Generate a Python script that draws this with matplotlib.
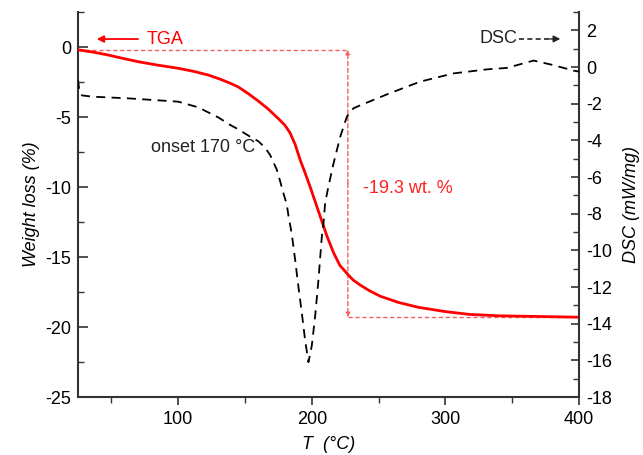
import matplotlib
matplotlib.use("Agg")
import matplotlib.pyplot as plt
import numpy as np

plt.rcParams['font.family'] = ['Liberation Sans', 'DejaVu Sans']

# TGA data (weight loss %, left axis)
tga_T = [25, 36, 47.5, 58, 70, 85, 100, 112, 122.4, 131.4, 138, 144.9, 152,
         159.8, 167, 174.8, 180, 183.8, 187.5, 191.3, 195, 198.8, 203.8,
         208.8, 211.3, 216.3, 221, 227.5, 231, 236.2, 243, 251.2, 265, 280,
         300, 318, 340, 370, 400]
tga_w = [-0.2, -0.36, -0.57, -0.8, -1.05, -1.3, -1.52, -1.75, -2.0, -2.3,
         -2.55, -2.85, -3.3, -3.85, -4.4, -5.1, -5.6, -6.15, -6.95, -8.07,
         -9.0, -10.0, -11.4, -12.8, -13.5, -14.7, -15.6, -16.3, -16.65, -17.0,
         -17.4, -17.8, -18.25, -18.6, -18.9, -19.1, -19.2, -19.25, -19.3]

# DSC data (mW/mg, right axis)
dsc_T = [25, 26, 28, 36, 62.5, 100, 115, 130, 138.9, 145, 153.8, 160, 165,
         168.8, 171, 173.8, 176, 178.8, 181.3, 182.5, 185, 187.5, 190, 192.5,
         195, 197.5, 200, 202.5, 205, 207.5, 208.8, 210, 212.5, 216.3, 221.3,
         226.3, 231.2, 236, 256, 281, 306, 331, 346, 366, 381, 396, 400]
dsc_v = [-0.7, -1.3, -1.55, -1.62, -1.71, -1.89, -2.2, -2.75, -3.16, -3.4,
         -3.8, -4.05, -4.4, -4.8, -5.15, -5.6, -6.15, -6.9, -7.5, -8.1, -9.1,
         -10.5, -12.0, -13.4, -14.9, -16.1, -15.2, -13.6, -11.6, -9.25, -8.5,
         -7.4, -6.5, -5.25, -3.8, -2.7, -2.25, -2.1, -1.5, -0.8, -0.35,
         -0.13, -0.05, 0.35, 0.1, -0.2, -0.25]

# annotation values
step_T = 227
w_start = -0.2
w_end = -19.3
loss_label = "-19.3 wt. %"

fig = plt.figure(figsize=(6.43, 4.55), dpi=100)
ax = fig.add_axes([78/643, 58/455, 501/643, 385/455])
ax2 = ax.twinx()

spine_c = '#333333'
fs = 13

ax.set_xlim(25, 400)
ax.set_ylim(-25, 2.5)
ax2.set_ylim(-18, 3)

# lines
ax.plot(tga_T, tga_w, color='#ff0000', lw=2.0, zorder=5)
ax2.plot(dsc_T, dsc_v, color='black', lw=1.3, ls=(0, (5, 3.5)), zorder=4)

# red dotted guides
red_l = '#f06060'
ax.plot([25, step_T], [w_start, w_start], color=red_l, lw=1.0, ls=(0, (3, 2)))
ax.plot([step_T, 400], [w_end, w_end], color=red_l, lw=1.0, ls=(0, (3, 2)))
ax.annotate('', xy=(step_T, w_start), xytext=(step_T, (w_start + w_end) / 2),
            arrowprops=dict(arrowstyle='-|>', color=red_l, lw=1.0, ls=(0, (3, 2)),
                            mutation_scale=6, shrinkA=0, shrinkB=0))
ax.annotate('', xy=(step_T, w_end), xytext=(step_T, (w_start + w_end) / 2),
            arrowprops=dict(arrowstyle='-|>', color=red_l, lw=1.0, ls=(0, (3, 2)),
                            mutation_scale=6, shrinkA=0, shrinkB=0))

# texts
ax.text(238.5, -10.1, loss_label, color='#ff2020', fontsize=fs, va='center', ha='left')
ax.text(79.5, -7.2, 'onset 170 °C', color='#222222', fontsize=fs, va='center', ha='left')
ax.text(76, 0.57, 'TGA', color='#ff0000', fontsize=fs, va='center', ha='left')
ax.annotate('', xy=(39, 0.57), xytext=(70, 0.57),
            arrowprops=dict(arrowstyle='-|>', color='#ff0000', lw=1.3,
                            mutation_scale=10, shrinkA=0, shrinkB=0))
ax2.text(354, 1.53, 'DSC', color='#222222', fontsize=fs, va='center', ha='right')
ax2.plot([355, 379], [1.53, 1.53], color='#222222', lw=1.2, ls=(0, (3, 2)))
ax2.annotate('', xy=(386, 1.53), xytext=(378, 1.53),
             arrowprops=dict(arrowstyle='-|>', color='#222222', lw=1.0,
                             mutation_scale=10, shrinkA=0, shrinkB=0))

# ticks
ax.set_xticks([100, 200, 300, 400])
ax.set_xticks([50, 150, 250, 350], minor=True)
ax.set_yticks([0, -5, -10, -15, -20, -25])
ax.set_yticks(np.arange(-22.5, 2.6, 5), minor=True)
ax2.set_yticks(np.arange(-18, 2.1, 2))
ax2.set_yticks(np.arange(-17, 3.1, 2), minor=True)
ax.set_yticklabels(['0', '-5', '-10', '-15', '-20', '-25'])
ax2.set_yticklabels([str(int(v)) for v in np.arange(-18, 2.1, 2)])

ax.tick_params(axis='x', which='major', direction='out', length=6, width=1.2,
               color=spine_c, labelsize=fs, pad=4)
ax.tick_params(axis='x', which='minor', direction='out', length=4, width=1.0, color=spine_c)
ax.tick_params(axis='y', which='major', direction='in', length=7, width=1.2,
               color=spine_c, labelsize=fs, pad=5)
ax.tick_params(axis='y', which='minor', direction='in', length=4, width=1.0, color=spine_c)
ax2.tick_params(axis='y', which='major', direction='in', length=6, width=1.2,
                color=spine_c, labelsize=fs, pad=5)
ax2.tick_params(axis='y', which='minor', direction='in', length=4, width=1.0, color=spine_c)

for a in (ax, ax2):
    a.spines['top'].set_visible(False)
    for s in a.spines.values():
        s.set_color(spine_c)
        s.set_linewidth(1.5)
ax.spines['right'].set_visible(False)
ax2.spines['left'].set_visible(False)
ax2.spines['bottom'].set_visible(False)

ax.set_xlabel('T  (°C)', fontsize=fs, style='italic', labelpad=6)
ax.set_ylabel('Weight loss (%)', fontsize=fs, style='italic', labelpad=4)
ax2.set_ylabel('DSC (mW/mg)', fontsize=fs, style='italic', labelpad=8)

fig.savefig('out.png', dpi=100)
